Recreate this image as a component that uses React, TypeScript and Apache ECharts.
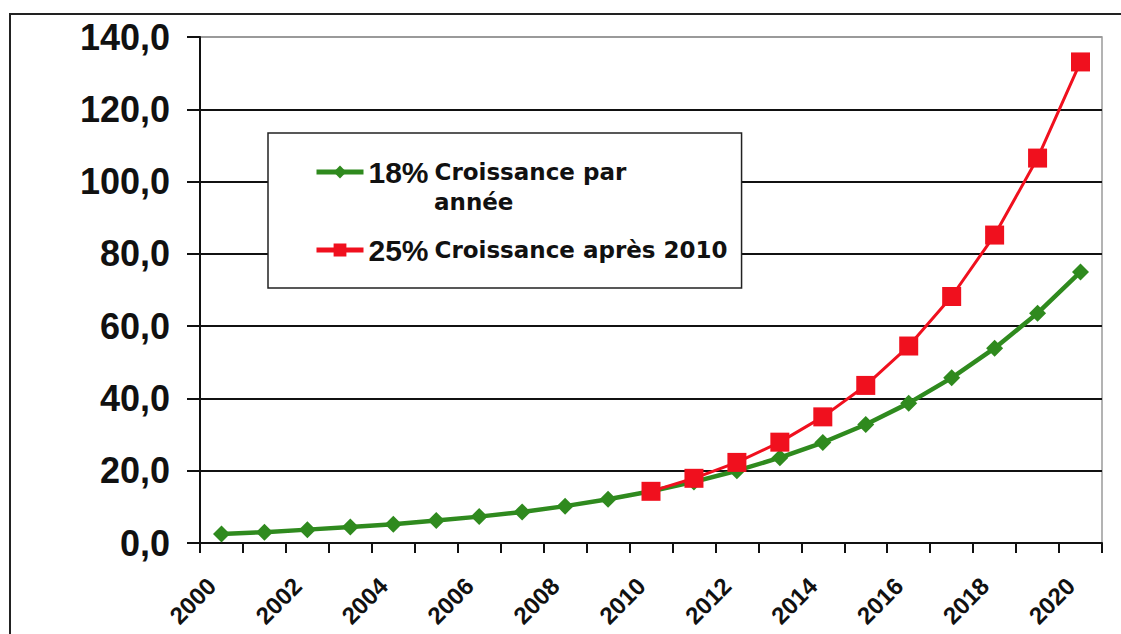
import React, { useEffect, useRef } from "react";
import * as echarts from "echarts";

const years = [
  "2000", "2001", "2002", "2003", "2004", "2005", "2006", "2007", "2008", "2009", "2010",
  "2011", "2012", "2013", "2014", "2015", "2016", "2017", "2018", "2019", "2020",
];
const growth18 = [
  2.5, 3.0, 3.7, 4.4, 5.2, 6.2, 7.3, 8.6, 10.2, 12.1, 14.3,
  16.9, 20.0, 23.6, 27.8, 32.8, 38.7, 45.7, 53.9, 63.6, 75.0,
];
const growth25 = [
  null, null, null, null, null, null, null, null, null, null, 14.3,
  17.9, 22.3, 27.9, 34.9, 43.6, 54.5, 68.2, 85.2, 106.5, 133.1,
];
const seriesNames = ["18% Croissance par année", "25% Croissance après 2010"];
const legendPct = ["18%", "25%"];
const legendText = ["Croissance par", "Croissance après 2010"];
const legendSecondLine = "année";

const GREEN = "#2F8A1E";
const RED = "#F0101E";

export default function App() {
  const ref = useRef<HTMLDivElement>(null);
  useEffect(() => {
    if (!ref.current) return;
    const chart = echarts.init(ref.current, null, { renderer: "svg" });
    chart.setOption({
      animation: false,
      backgroundColor: "#ffffff",
      grid: {
        left: 200,
        right: 19,
        top: 37,
        bottom: 91,
        containLabel: false,
        outerBoundsMode: "none",
        show: true,
        borderColor: "#9a9a9a",
        borderWidth: 1.5,
      },
      legend: {
        orient: "vertical",
        left: 268,
        top: 133,
        padding: [24, 14, 23, 46],
        backgroundColor: "#ffffff",
        borderColor: "#222",
        borderWidth: 1.5,
        itemWidth: 47,
        itemHeight: 16,
        itemGap: 48,
        data: seriesNames,
        lineStyle: { width: 5 },
        formatter: (name: string) => {
          const i = seriesNames.indexOf(name);
          return `{p|${legendPct[i]}}{t|${legendText[i]}}`;
        },
        textStyle: {
          rich: {
            p: {
              fontFamily: "Liberation Sans",
              fontWeight: "bold",
              fontSize: 30,
              color: "#111",
              width: 66,
            },
            t: {
              fontFamily: "DejaVu Sans",
              fontWeight: "bold",
              fontSize: 23,
              color: "#111",
            },
          },
        },
      },
      graphic: [
        {
          type: "rect",
          shape: { x: 10, y: 14, width: 1130, height: 640 },
          style: { fill: "none", stroke: "#222", lineWidth: 2 },
          silent: true,
        },
        {
          type: "text",
          x: 434,
          y: 202,
          style: {
            text: legendSecondLine,
            fontFamily: "DejaVu Sans",
            fontWeight: "bold",
            fontSize: 23,
            fill: "#111",
            verticalAlign: "middle",
          },
          z: 100,
        },
      ],
      xAxis: {
        type: "category",
        data: years,
        boundaryGap: true,
        axisLine: { lineStyle: { color: "#111", width: 2 } },
        axisTick: {
          show: true,
          interval: 0,
          length: 10,
          lineStyle: { color: "#111", width: 2 },
        },
        axisLabel: {
          interval: 1,
          rotate: 45,
          margin: 29,
          padding: [0, 14, 0, 0],
          fontFamily: "Liberation Sans",
          fontWeight: "bold",
          fontSize: 24,
          color: "#111",
        },
        splitLine: { show: false },
      },
      yAxis: {
        type: "value",
        min: 0,
        max: 140,
        interval: 20,
        axisLine: { show: true, lineStyle: { color: "#111", width: 2 } },
        axisTick: { show: true, length: 13, lineStyle: { color: "#111", width: 2 } },
        axisLabel: {
          margin: 30,
          fontFamily: "Liberation Sans",
          fontWeight: "bold",
          fontSize: 36,
          color: "#111",
          formatter: (v: number) => v.toFixed(1).replace(".", ","),
        },
        splitLine: {
          show: true,
          lineStyle: {
            color: ["#111", "#111", "#111", "#111", "#111", "#111", "#111", "#9a9a9a"],
            width: 2,
          },
        },
      },
      series: [
        {
          name: seriesNames[0],
          type: "line",
          data: growth18,
          symbol: "diamond",
          symbolSize: [17, 17],
          lineStyle: { color: GREEN, width: 4.5 },
          itemStyle: { color: GREEN },
          z: 3,
        },
        {
          name: seriesNames[1],
          type: "line",
          data: growth25,
          symbol: "rect",
          symbolSize: 19,
          lineStyle: { color: RED, width: 3 },
          itemStyle: { color: RED },
          z: 4,
        },
      ],
    });
    return () => chart.dispose();
  }, []);
  return (
    <div
      ref={ref}
      style={{ position: "fixed", left: 0, top: 0, width: 1121, height: 634 }}
    />
  );
}
